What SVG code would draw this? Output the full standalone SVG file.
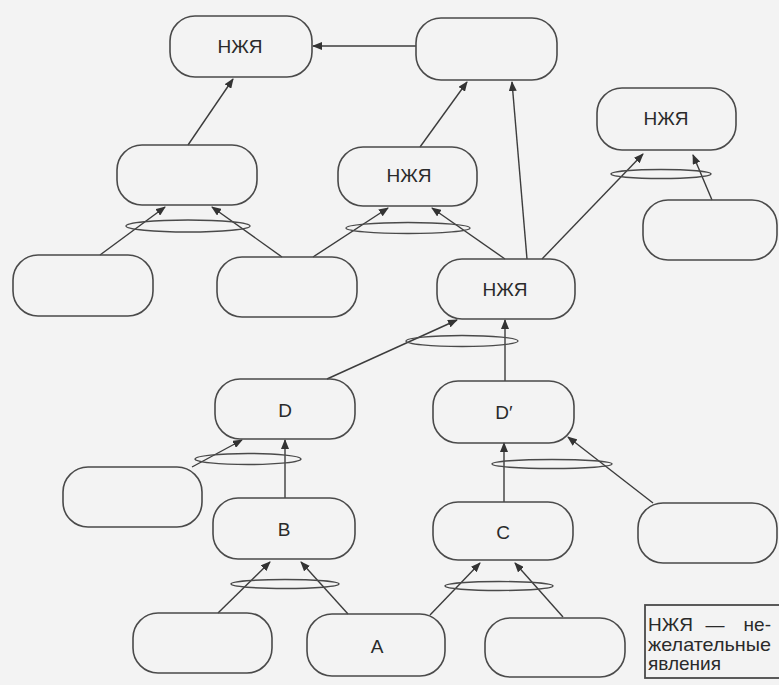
<svg xmlns="http://www.w3.org/2000/svg" width="779" height="685" viewBox="0 0 779 685">
<defs>
<marker id="ah" markerUnits="userSpaceOnUse" markerWidth="10" markerHeight="8" refX="9" refY="4" orient="auto">
<path d="M0,0 L10,4 L0,8 z" fill="#333"/>
</marker>
<style>
.n{fill:none;stroke:#4a4a4a;stroke-width:1.6}
.t{font-family:"Liberation Sans",Arial,sans-serif;font-size:19px;fill:#2a2a2a;text-anchor:middle;dominant-baseline:central}
.c{stroke:#3c3c3c;stroke-width:1.4;fill:none}
.a{marker-end:url(#ah)}
.e{fill:none;stroke:#4a4a4a;stroke-width:1.4}
.lg{font-family:"Liberation Sans",Arial,sans-serif;font-size:19px;fill:#2a2a2a}
</style>
</defs>
<rect width="779" height="685" fill="#f3f3f3"/>
<g id="connectors">
<line class="c a" x1="416" y1="46" x2="313" y2="46"/>
<line class="c a" x1="188" y1="145" x2="233" y2="79"/>
<line class="c a" x1="420" y1="147" x2="467" y2="82"/>
<line class="c a" x1="527" y1="259" x2="512" y2="82"/>
<line class="c a" x1="542" y1="259" x2="643" y2="154"/>
<line class="c a" x1="712" y1="200" x2="693" y2="155"/>
<line class="c a" x1="100" y1="255" x2="165" y2="207"/>
<line class="c a" x1="282" y1="257" x2="212" y2="207"/>
<line class="c a" x1="313" y1="257" x2="388" y2="208"/>
<line class="c a" x1="505" y1="259" x2="432" y2="208"/>
<line class="c a" x1="327" y1="379" x2="457" y2="320"/>
<line class="c a" x1="505" y1="381" x2="505" y2="320"/>
<line class="c a" x1="285" y1="498" x2="285" y2="440"/>
<line class="c a" x1="192" y1="467" x2="242" y2="440"/>
<line class="c a" x1="504" y1="502" x2="504" y2="443"/>
<line class="c a" x1="653" y1="503" x2="568" y2="437"/>
<line class="c a" x1="218" y1="613" x2="270" y2="562"/>
<line class="c a" x1="348" y1="614" x2="301" y2="562"/>
<line class="c a" x1="430" y1="615" x2="480" y2="563"/>
<line class="c a" x1="563" y1="617" x2="515" y2="563"/>
<ellipse class="e" cx="661" cy="174" rx="50" ry="4.5"/>
<ellipse class="e" cx="188" cy="226" rx="62" ry="6"/>
<ellipse class="e" cx="408" cy="228" rx="62" ry="5.5"/>
<ellipse class="e" cx="462" cy="341" rx="56" ry="5.5"/>
<ellipse class="e" cx="248" cy="459" rx="53" ry="5.5"/>
<ellipse class="e" cx="552" cy="464" rx="60" ry="4.5"/>
<ellipse class="e" cx="285" cy="584" rx="54" ry="4.5"/>
<ellipse class="e" cx="499" cy="586" rx="54" ry="4.5"/>
</g>
<g id="n1"><rect class="n" x="170" y="16" width="142" height="61" rx="25"/><text class="t" x="240" y="46">НЖЯ</text></g>
<g id="n2"><rect class="n" x="416" y="18" width="141" height="62" rx="25"/></g>
<g id="n3"><rect class="n" x="597" y="88" width="139" height="62" rx="25"/><text class="t" x="666" y="118">НЖЯ</text></g>
<g id="n4"><rect class="n" x="117" y="145" width="140" height="60" rx="25"/></g>
<g id="n5"><rect class="n" x="338" y="147" width="139" height="59" rx="25"/><text class="t" x="409" y="175">НЖЯ</text></g>
<g id="n6"><rect class="n" x="643" y="200" width="134" height="60" rx="25"/></g>
<g id="n7"><rect class="n" x="13" y="255" width="140" height="61" rx="25"/></g>
<g id="n8"><rect class="n" x="217" y="257" width="140" height="60" rx="25"/></g>
<g id="n9"><rect class="n" x="437" y="259" width="138" height="60" rx="25"/><text class="t" x="505" y="289">НЖЯ</text></g>
<g id="nD"><rect class="n" x="215" y="379" width="140" height="60" rx="25"/><text class="t" x="285" y="410">D</text></g>
<g id="nD2"><rect class="n" x="433" y="381" width="141" height="62" rx="25"/><text class="t" x="504" y="412">D′</text></g>
<g id="nL"><rect class="n" x="63" y="467" width="139" height="60" rx="25"/></g>
<g id="nB"><rect class="n" x="213" y="498" width="142" height="61" rx="25"/><text class="t" x="284" y="529">B</text></g>
<g id="nC"><rect class="n" x="433" y="502" width="140" height="58" rx="25"/><text class="t" x="503" y="532">C</text></g>
<g id="nR"><rect class="n" x="638" y="503" width="139" height="60" rx="25"/></g>
<g id="nBL"><rect class="n" x="133" y="613" width="139" height="60" rx="25"/></g>
<g id="nA"><rect class="n" x="307" y="614" width="138" height="62" rx="25"/><text class="t" x="377" y="646">A</text></g>
<g id="nBR"><rect class="n" x="485" y="618" width="140" height="59" rx="25"/></g>
<g id="legend">
<rect x="645" y="605" width="140" height="73" fill="none" stroke="#4a4a4a" stroke-width="1.8"/>
<text class="lg" x="648" y="631">НЖЯ</text>
<text class="lg" x="715" y="631" text-anchor="middle">—</text>
<text class="lg" x="771" y="631" text-anchor="end">не-</text>
<text class="lg" x="648" y="651" textLength="123" lengthAdjust="spacingAndGlyphs">желательные</text>
<text class="lg" x="648" y="670">явления</text>
</g>
</svg>
